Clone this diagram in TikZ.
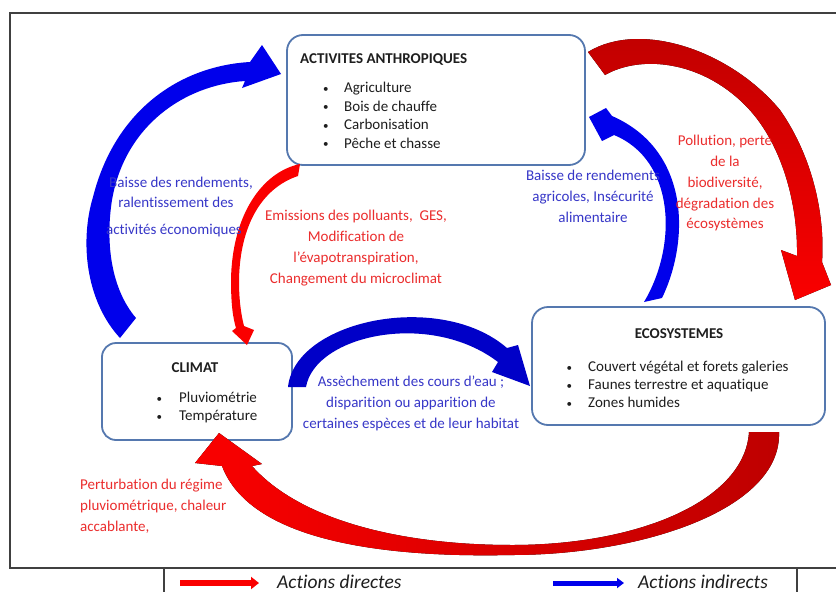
\documentclass[tikz,border=0pt]{standalone}
\usepackage{fontspec}
\setmainfont[Ligatures=NoCommon]{Carlito}
\usetikzlibrary{arrows.meta}
\definecolor{boxblue}{RGB}{85,120,175}
\definecolor{txtblue}{RGB}{55,55,200}
\definecolor{txtred}{RGB}{235,45,45}
\definecolor{arrblue}{RGB}{0,0,235}
\definecolor{arrbluedk}{RGB}{0,0,200}
\definecolor{arrred}{RGB}{250,0,0}
\definecolor{arrreddk}{RGB}{190,0,0}
\definecolor{txtdark}{RGB}{30,30,30}
\newcommand{\bul}[1]{\makebox[#1][l]{\raisebox{0.5pt}{\fontsize{11}{11}\selectfont\textbullet}}}
\begin{document}
\begin{tikzpicture}[x=1pt,y=-1pt,
  box/.style={draw=boxblue, line width=1.8pt, rounded corners=16pt, fill=white, inner sep=0pt},
  ttl/.style={font=\fontsize{15}{18}\selectfont\bfseries, text=txtdark, inner sep=0pt, anchor=base},
  itm/.style={font=\fontsize{15}{18}\selectfont, text=txtdark, inner sep=0pt, anchor=base west},
  lblb/.style={font=\fontsize{15}{18}\selectfont, text=txtblue, inner sep=0pt, anchor=base},
  lblr/.style={font=\fontsize{15}{18}\selectfont, text=txtred, inner sep=0pt, anchor=base},
  leg/.style={font=\fontsize{19.5}{22}\selectfont\itshape, text=txtdark, inner sep=0pt, anchor=base west},
  frame/.style={draw=black!75, line width=1.2pt}]
\useasboundingbox (0,0) rectangle (836,592);
\fill[white] (0,0) rectangle (836,592);

% frame and legend box
\draw[frame] (836,13) -- (10,13) -- (10,568) -- (836,568);
\draw[frame] (164,568) -- (164,592);
\draw[frame] (797,568) -- (797,592);

% boxes
\node[box, minimum width=298pt, minimum height=130pt] (act) at (436,100) {};
\node[box, minimum width=190pt, minimum height=97pt, rounded corners=14pt] (cli) at (197,391.5) {};
\node[box, minimum width=293pt, minimum height=118pt] (eco) at (678.5,366) {};

% box texts
\node[ttl, anchor=base west] (actT) at (300,63.7) {ACTIVITES ANTHROPIQUES};
\node[itm] (act1) at (323,92.5) {\bul{21pt}Agriculture};
\node[itm] (act2) at (323,111) {\bul{21pt}Bois de chauffe};
\node[itm] (act3) at (323,129.5) {\bul{21pt}Carbonisation};
\node[itm] (act4) at (323,148) {\bul{21pt}Pêche et chasse};

\node[ttl] (cliT) at (195,372) {CLIMAT};
\node[itm] (cli1) at (156.5,402.5) {\bul{22.5pt}Pluviométrie};
\node[itm] (cli2) at (156.5,420.5) {\bul{22.5pt}Température};

\node[ttl] (ecoT) at (679,338) {ECOSYSTEMES};
\node[itm] (eco1) at (566.5,371.5) {\bul{21.5pt}Couvert végétal et forets galeries};
\node[itm] (eco2) at (566.5,389.5) {\bul{21.5pt}Faunes terrestre et aquatique};
\node[itm] (eco3) at (566.5,407.5) {\bul{21.5pt}Zones humides};

% arrows
% blue left: climat -> activites
\fill[arrblue] (120,338) .. controls (85,300) and (80,240) .. (93,197)
  .. controls (115,110) and (180,66) .. (250,62)
  -- (262,45) -- (281,74) -- (242,88) -- (245,81)
  .. controls (185,85) and (125,125) .. (112,200)
  .. controls (105,245) and (112,290) .. (136,318) -- cycle;
% red top: activites -> ecosystemes
\fill[top color=arrreddk, bottom color=arrred] (588,52) .. controls (640,20) and (730,50) .. (780,110)
  .. controls (815,160) and (825,220) .. (822,262)
  -- (831,285) -- (795,300) -- (781,250) -- (797,256)
  .. controls (798,200) and (780,140) .. (745,105)
  .. controls (700,60) and (640,55) .. (605,75) -- cycle;
% blue inner right: ecosystemes -> activites
\fill[arrblue] (662,298) .. controls (690,240) and (690,150) .. (612,116)
  -- (606,108) -- (589,117) -- (602,141) -- (614,135)
  .. controls (675,160) and (678,245) .. (644,302) -- cycle;
% red inner: activites -> climat
\fill[arrred] (300,164) .. controls (262,172) and (232,215) .. (231,280)
  .. controls (231,305) and (233,318) .. (236,328)
  -- (232,331) -- (247,345) -- (254,330) -- (244,326)
  .. controls (240,310) and (239,295) .. (239,280)
  .. controls (240,225) and (262,188) .. (298,176) -- cycle;
% blue middle: climat -> ecosystemes
\fill[arrbluedk] (288,387) .. controls (295,320) and (440,290) .. (507,348)
  -- (518,345) -- (530,386) -- (492,372) -- (498,362)
  .. controls (430,310) and (315,335) .. (306,387) -- cycle;
% red bottom: ecosystemes -> climat
\fill[left color=arrred, right color=arrreddk] (779,432) .. controls (782,510) and (640,555) .. (512,555)
  .. controls (380,558) and (250,540) .. (222,466)
  -- (195,463) -- (219,433) -- (262,464) -- (252,466)
  .. controls (300,520) and (400,545) .. (512,545)
  .. controls (640,545) and (745,500) .. (749,432) -- cycle;

% labels
\node[lblb] (bl1) at (181,187.5) {Baisse des rendements,};
\node[lblb] (bl2) at (176,207.5) {ralentissement des};
\node[lblb] (bl3) at (174,234.5) {activités économiques};

\node[lblr] (rm1) at (356,220.5) {Emissions des polluants,\ \ GES,};
\node[lblr] (rm2) at (356,241) {Modification de};
\node[lblr] (rm3) at (356,262.5) {l’évapotranspiration,};
\node[lblr] (rm4) at (356,283) {Changement du microclimat};

\node[lblb] (br1) at (593,180) {Baisse de rendements};
\node[lblb] (br2) at (593,201) {agricoles, Insécurité};
\node[lblb] (br3) at (593,222) {alimentaire};

\node[lblr] (rr1) at (725,145) {Pollution, perte};
\node[lblr] (rr2) at (725,166) {de la};
\node[lblr] (rr3) at (725,187) {biodiversité,};
\node[lblr] (rr4) at (725,208) {dégradation des};
\node[lblr] (rr5) at (725,228.5) {écosystèmes};

\node[lblb] (bm1) at (411,386) {Assèchement des cours d’eau ;};
\node[lblb] (bm2) at (411,407) {disparition ou apparition de};
\node[lblb] (bm3) at (411,428) {certaines espèces et de leur habitat};

\node[lblr, anchor=base west] (rb1) at (80,489) {Perturbation du régime};
\node[lblr, anchor=base west] (rb2) at (80,510) {pluviométrique, chaleur};
\node[lblr, anchor=base west] (rb3) at (80,531) {accablante,};

% legend
\coordinate (lr1) at (180,583);
\coordinate (lr2) at (259,583);
\coordinate (lb1) at (553,583);
\coordinate (lb2) at (624,583);
\draw[arrred, line width=6pt, -{Triangle[length=8pt,width=12pt]}] (lr1) -- (lr2);
\draw[arrblue, line width=5pt, -{Triangle[length=7pt,width=10pt]}] (lb1) -- (lb2);
\node[leg] (legd) at (277,588) {Actions directes};
\node[leg] (legi) at (638,588) {Actions indirects};
\end{tikzpicture}
\end{document}
